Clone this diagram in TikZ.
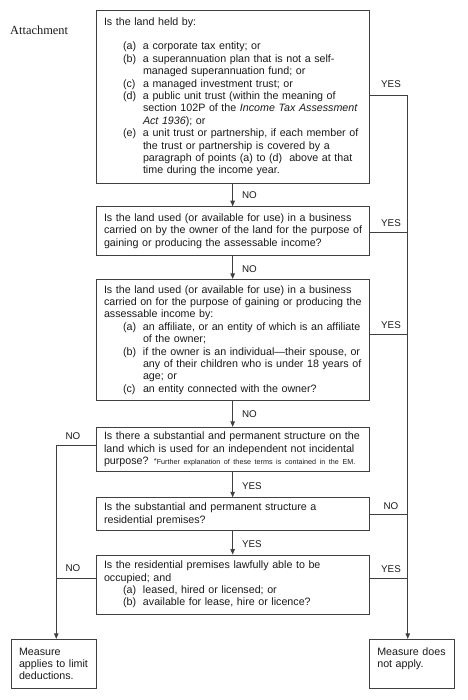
\documentclass[tikz,border=0pt]{standalone}
\usepackage{fontspec}
\setmainfont{Liberation Sans}
\newfontfamily\attfont{Liberation Serif}
\usetikzlibrary{arrows.meta}
\definecolor{linecol}{HTML}{404040}
\definecolor{txtcol}{HTML}{1A1A1A}
\newcommand\lne[1]{\mbox{#1}}
\newcommand\itm[2]{\mbox{\hspace*{19pt}\makebox[20pt][l]{#1}#2}}
\newcommand\cnt[1]{\mbox{\hspace*{39pt}#1}}
\begin{document}
\begin{tikzpicture}[x=1pt,y=-1pt,
  every node/.style={text=txtcol},
  qbox/.style={draw=linecol, line width=0.9pt, inner xsep=8pt, inner ysep=0pt,
    align=left, text width=257.3pt, font=\fontsize{10.7}{12.4}\selectfont},
  endbox/.style={draw=linecol, line width=0.9pt, inner xsep=8pt, inner ysep=0pt,
    align=left, text width=69pt, minimum height=49pt, font=\fontsize{10.7}{12.4}\selectfont},
  conn/.style={draw=linecol, line width=0.9pt},
  arr/.style={conn, -{Triangle[length=5.5pt,width=4.5pt]}},
  lbl/.style={font=\fontsize{9.8}{11}\selectfont, inner sep=0pt}
]
\useasboundingbox (0,0) rectangle (467,700);

\node[anchor=west, font=\attfont\fontsize{12.4}{14}\selectfont, inner sep=0pt] (att) at (10,30) {Attachment};

\node[qbox, minimum height=173.3pt] (q1) at (232.65,96.7) {%
\lne{Is the land held by:}\\[12.4pt]
\itm{(a)}{a corporate tax entity; or}\\
\itm{(b)}{a superannuation plan that is not a self-}\\
\cnt{managed superannuation fund; or}\\
\itm{(c)}{a managed investment trust; or}\\
\itm{(d)}{a public unit trust (within the meaning of}\\
\cnt{section 102P of the \textit{Income Tax Assessment}}\\
\cnt{\textit{Act 1936}); or}\\
\itm{(e)}{a unit trust or partnership, if each member of}\\
\cnt{the trust or partnership is covered by a}\\
\cnt{paragraph of points (a) to (d)\ \ above at that}\\
\cnt{time during the income year.}};

\node[qbox, minimum height=49pt] (q2) at (232.65,231.2) {%
\lne{Is the land used (or available for use) in a business}\\
\lne{carried on by the owner of the land for the purpose of}\\
\lne{gaining or producing the assessable income?}};

\node[qbox, minimum height=121.4pt] (q3) at (232.65,340) {%
\lne{Is the land used (or available for use) in a business}\\
\lne{carried on for the purpose of gaining or producing the}\\
\lne{assessable income by:}\\
\itm{(a)}{an affiliate, or an entity of which is an affiliate}\\
\cnt{of the owner;}\\
\itm{(b)}{if the owner is an individual---their spouse, or}\\
\cnt{any of their children who is under 18 years of}\\
\cnt{age; or}\\
\itm{(c)}{an entity connected with the owner?}};

\node[qbox, minimum height=44.4pt] (q4) at (232.65,449.5) {%
\lne{Is there a substantial and permanent structure on the}\\
\lne{land which is used for an independent not incidental}\\
\lne{purpose? {\fontsize{7.2}{8}\selectfont\raisebox{1pt}{*}Further explanation of these terms is contained in the EM.}}};

\node[qbox, minimum height=33pt] (q5) at (232.65,514.2) {%
\lne{Is the substantial and permanent structure a}\\
\lne{residential premises?}};

\node[qbox, minimum height=59pt] (q6) at (232.65,584.5) {%
\lne{Is the residential premises lawfully able to be}\\
\lne{occupied; and}\\
\itm{(a)}{leased, hired or licensed; or}\\
\itm{(b)}{available for lease, hire or licence?}};

\node[endbox] (ea) at (53.5,663.8) {%
\lne{Measure}\\
\lne{applies to limit}\\
\lne{deductions.}};

\node[endbox] (en) at (411.8,663.8) {%
\lne{Measure does}\\
\lne{not apply.}\\
\mbox{}};

% down connectors
\draw[arr] (q1.south) -- node[lbl, anchor=west, xshift=9pt, yshift=-0.5pt] {NO} (q2.north);
\draw[arr] (q2.south) -- node[lbl, anchor=west, xshift=9pt, yshift=-1.5pt] {NO} (q3.north);
\draw[arr] (q3.south) -- node[lbl, anchor=west, xshift=9pt, yshift=-0.5pt] {NO} (q4.north);
\draw[arr] (q4.south) -- node[lbl, anchor=west, xshift=9pt, yshift=-1.3pt] {YES} (q5.north);
\draw[arr] (q5.south) -- node[lbl, anchor=west, xshift=9pt, yshift=-1.2pt] {YES} (q6.north);

% right rail
\coordinate (r1) at ([yshift=1.4pt]q1.east);
\coordinate (r2) at ([yshift=-1.1pt]q2.east);
\coordinate (r3) at ([yshift=5.3pt]q3.east);
\coordinate (r6) at ([yshift=5.8pt]q6.east);
\draw[arr] (r1) -- ++(38,0) coordinate (rr) -- (rr |- en.north);
\node[lbl] (y1) at (391,84) {YES};
\draw[conn] (r2) -- (r2 -| rr);
\node[lbl] (y2) at (391,223) {YES};
\draw[conn] (r3) -- (r3 -| rr);
\node[lbl] (y3) at (391,325) {YES};
\draw[conn] (q5.east) -- (q5.east -| rr);
\node[lbl] (n5) at (391,506) {NO};
\draw[conn] (r6) -- (r6 -| rr);
\node[lbl] (y6) at (391,569.3) {YES};

% left rail
\coordinate (l4) at ([yshift=4.5pt]q4.west);
\coordinate (l6) at ([yshift=5.8pt]q6.west);
\draw[arr] (l4) -- ++(-39.3,0) coordinate (lr) -- (lr |- ea.north);
\node[lbl] (n4) at (73,436) {NO};
\draw[conn] (l6) -- (l6 -| lr);
\node[lbl] (n6) at (73,567.7) {NO};
\end{tikzpicture}
\end{document}
